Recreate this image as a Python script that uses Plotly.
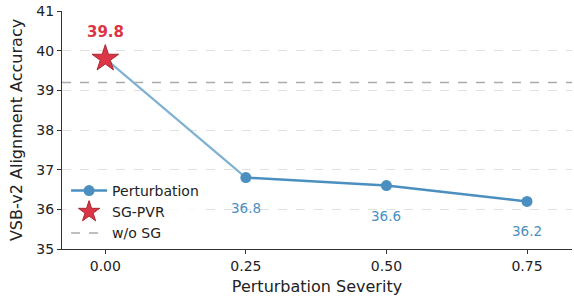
import plotly.graph_objects as go

severity = [0.25, 0.50, 0.75]
accuracy = [36.8, 36.6, 36.2]
sg_x = [0.0]
sg_y = [39.8]
baseline = 39.2
xticks = [0.0, 0.25, 0.5, 0.75]
xtick_labels = ["0.00", "0.25", "0.50", "0.75"]
yticks = [35, 36, 37, 38, 39, 40, 41]

BLUE = "#4a8fc0"
LIGHT = "#7fb1d2"
RED = "#dc3545"
FONT = "DejaVu Sans"

fig = go.Figure()

# faded connecting segment from SG-PVR to first perturbation point
fig.add_trace(go.Scatter(x=[sg_x[0], severity[0]], y=[sg_y[0], accuracy[0]],
                         mode="lines", line=dict(color=LIGHT, width=2.2),
                         showlegend=False, hoverinfo="skip"))

fig.add_trace(go.Scatter(x=severity, y=accuracy, mode="lines+markers",
                         name="Perturbation",
                         line=dict(color=BLUE, width=2.5),
                         marker=dict(color=BLUE, size=11)))

fig.add_trace(go.Scatter(x=sg_x, y=sg_y, mode="markers", name="SG-PVR",
                         marker=dict(symbol="star", color=RED, size=20,
                                     line=dict(color="#a52a33", width=1))))

fig.add_trace(go.Scatter(x=[None], y=[None], mode="lines", name="w/o SG",
                         line=dict(color="#aaaaaa", width=1.5, dash="dash")))

fig.add_shape(type="line", xref="x domain", yref="y", x0=0, x1=1,
              y0=baseline, y1=baseline,
              line=dict(color="#aaaaaa", width=1.5, dash="dash"))

for xv, yv in zip(severity, accuracy):
    fig.add_annotation(x=xv, y=yv, text=f"{yv:.1f}", showarrow=False,
                       yshift=-30, font=dict(family=FONT, size=13.5, color=BLUE))

fig.add_annotation(x=sg_x[0], y=sg_y[0], text=f"<b>{sg_y[0]:.1f}</b>",
                   showarrow=False, yshift=27,
                   font=dict(family=FONT, size=15, color=RED))

fig.update_layout(
    width=574, height=298,
    margin=dict(l=62, r=2, t=11, b=49),
    plot_bgcolor="white", paper_bgcolor="white",
    font=dict(family=FONT, size=13, color="#222222"),
    legend=dict(x=0.008, y=0.0, xanchor="left", yanchor="bottom",
                bgcolor="rgba(255,255,255,0.8)",
                font=dict(family=FONT, size=14, color="#222222"),
                itemwidth=36, tracegroupgap=0),
)

fig.update_xaxes(range=[-0.077, 0.83], tickvals=xticks, ticktext=xtick_labels,
                 showgrid=False, zeroline=False, showline=True,
                 linecolor="#333333", linewidth=1.2,
                 ticks="outside", ticklen=4, tickcolor="#333333",
                 tickfont=dict(size=14),
                 title=dict(text="Perturbation Severity", font=dict(size=16),
                            standoff=7))

fig.update_yaxes(range=[35, 41], tickvals=yticks,
                 showgrid=True, gridcolor="#e0e0e0", griddash="dash",
                 gridwidth=1, zeroline=False, showline=True,
                 linecolor="#333333", linewidth=1.2,
                 ticks="outside", ticklen=4, tickcolor="#333333",
                 tickfont=dict(size=14),
                 title=dict(text="VSB-v2 Alignment Accuracy", font=dict(size=16),
                            standoff=9))

fig.write_html("out.html", config={"displayModeBar": False},
               post_script="document.body.style.margin='0';document.body.style.overflow='hidden';")
